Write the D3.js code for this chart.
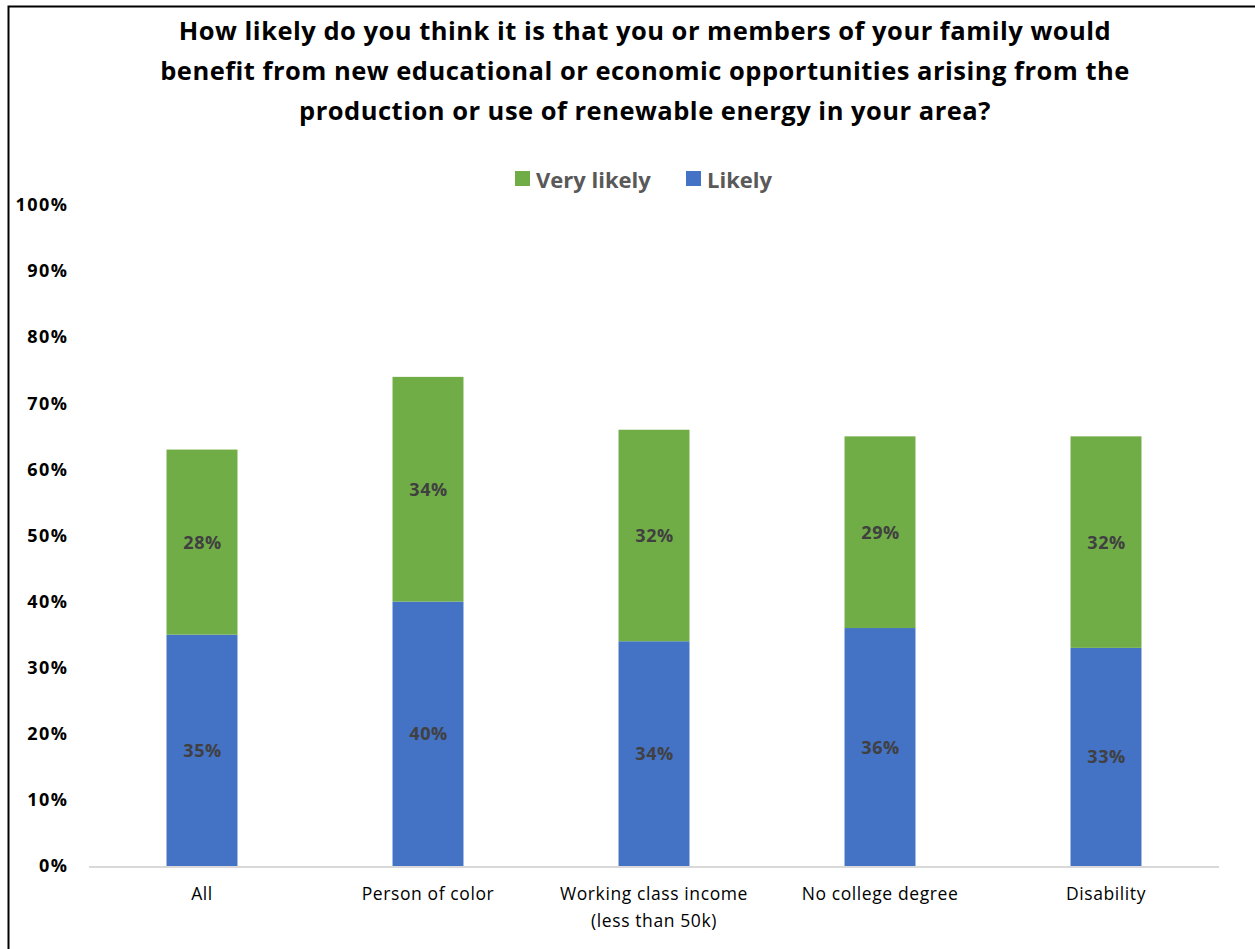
<!DOCTYPE html>
<html>
<head>
<meta charset="utf-8">
<script src="https://cdn.jsdelivr.net/npm/d3@7"></script>
<style>
  html, body { margin: 0; padding: 0; background: #fff; }
  svg { display: block; font-family: "Open Sans", "Noto Sans", sans-serif; }
</style>
</head>
<body>
<svg id="chart" width="1255" height="949"></svg>
<script>
// Survey groups and stacked shares
const categories = ["All", "Person of color", "Working class income\n(less than 50k)", "No college degree", "Disability"];
const likely = [35, 40, 34, 36, 33];
const veryLikely = [28, 34, 32, 29, 32];
const seriesNames = ["Very likely", "Likely"];
const yTicks = [0, 10, 20, 30, 40, 50, 60, 70, 80, 90, 100];
const titleLines = [
  "How likely do you think it is that you or members of your family would",
  "benefit from new educational or economic opportunities arising from the",
  "production or use of renewable energy in your area?"
];

const colors = { "Likely": "#4472c4", "Very likely": "#70ad47" };
const FONT = "'Open Sans', 'Noto Sans', sans-serif";

const svg = d3.select("#chart");
const W = 1255, H = 949;
const margin = { left: 89, right: W - 1219, top: 205, bottom: H - 866 };

// Outer frame (left and top edges)
svg.append("path")
  .attr("d", `M8.5,${H} V6.5 H${W}`)
  .attr("fill", "none").attr("stroke", "#000").attr("stroke-width", 2);

// Title
svg.append("g").selectAll("text").data(titleLines).join("text")
  .attr("x", 645).attr("y", (d, i) => 40 + i * 40)
  .attr("text-anchor", "middle")
  .attr("font-weight", "bold").attr("font-size", 25.5).attr("letter-spacing", 0.5)
  .attr("fill", "#000")
  .text(d => d);

const x = d3.scaleBand()
  .domain(categories)
  .range([margin.left, W - margin.right])
  .paddingInner(0.686).paddingOuter(0.343);

const y = d3.scaleLinear().domain([0, 100]).range([H - margin.bottom, margin.top]);

// Stacked data
const rows = categories.map((c, i) => ({ cat: c, "Likely": likely[i], "Very likely": veryLikely[i] }));
const stack = d3.stack().keys(["Likely", "Very likely"])(rows);

const g = svg.append("g");
stack.forEach(layer => {
  g.append("g").selectAll("rect").data(layer).join("rect")
    .attr("x", d => x(d.data.cat))
    .attr("width", x.bandwidth())
    .attr("y", d => y(d[1]))
    .attr("height", d => y(d[0]) - y(d[1]))
    .attr("fill", colors[layer.key]);
  g.append("g").selectAll("text").data(layer).join("text")
    .attr("x", d => x(d.data.cat) + x.bandwidth() / 2 + 0.5)
    .attr("y", d => y((d[0] + d[1]) / 2))
    .attr("dy", "0.36em")
    .attr("text-anchor", "middle")
    .attr("font-weight", "bold").attr("font-size", 18).attr("letter-spacing", 0.5)
    .attr("fill", "#404040")
    .text(d => (d[1] - d[0]) + "%");
});

// Baseline
svg.append("line")
  .attr("x1", margin.left).attr("x2", W - margin.right)
  .attr("y1", y(0) + 1).attr("y2", y(0) + 1)
  .attr("stroke", "#d9d9d9").attr("stroke-width", 2);

// Y axis labels
const yAxis = d3.axisLeft(y).tickValues(yTicks).tickFormat(d => d + "%").tickSize(0).tickPadding(0);
const ya = svg.append("g").attr("transform", "translate(68.5,0)").call(yAxis);
ya.select(".domain").remove();
ya.selectAll("text").attr("font-family", FONT)
  .attr("font-weight", "bold").attr("font-size", 18).attr("letter-spacing", 1.5)
  .attr("fill", "#000");

// X axis labels
const xAxis = d3.axisBottom(x).tickSize(0).tickPadding(0).tickFormat("");
const xa = svg.append("g").attr("transform", `translate(0,${y(0)})`).call(xAxis);
xa.select(".domain").remove();
xa.selectAll(".tick").each(function (d) {
  const t = d3.select(this).append("text")
    .attr("text-anchor", "middle").attr("fill", "#000")
    .attr("font-family", FONT).attr("font-size", 17.5).attr("letter-spacing", 0.6);
  d.split("\n").forEach((line, i) => {
    t.append("tspan").attr("x", 0).attr("y", 34 + i * 27).text(line);
  });
});

// Legend
const legendItems = [
  { name: seriesNames[0], sx: 515, tx: 536 },
  { name: seriesNames[1], sx: 686, tx: 707 }
];
const lg = svg.append("g");
legendItems.forEach(it => {
  lg.append("rect").attr("x", it.sx).attr("y", 171).attr("width", 15).attr("height", 15)
    .attr("fill", colors[it.name]);
  lg.append("text").attr("x", it.tx).attr("y", 188)
    .attr("font-weight", "bold").attr("font-size", 22).attr("fill", "#595959")
    .text(it.name);
});
</script>
</body>
</html>
